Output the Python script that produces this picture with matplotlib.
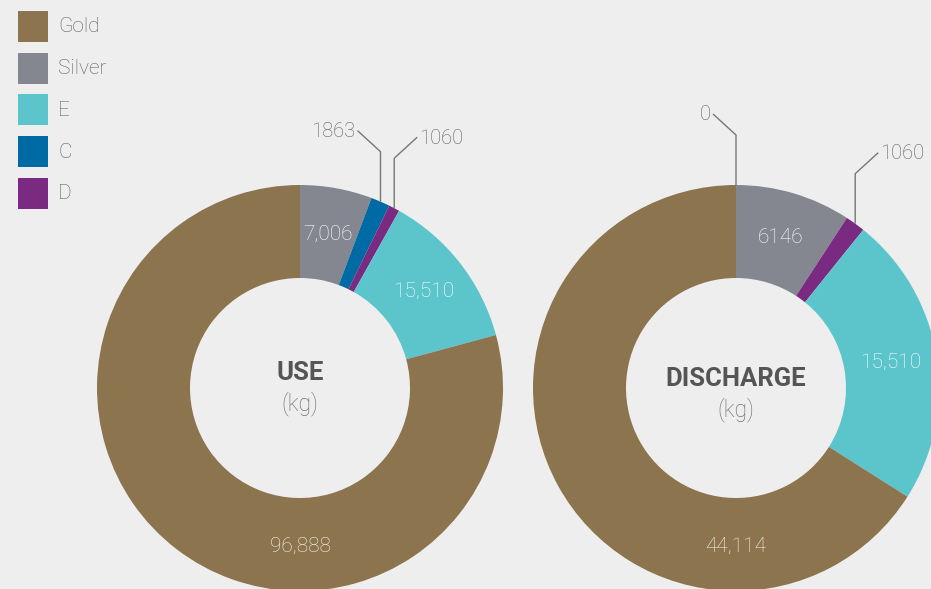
import numpy as np
import matplotlib.pyplot as plt
from matplotlib.patches import Rectangle

plt.rcParams['font.family'] = ['Roboto', 'DejaVu Sans']

# categories and colours
categories = ['Gold', 'Silver', 'E', 'C', 'D']
colors = {'Gold': '#8c744e', 'Silver': '#858790', 'E': '#5cc5cc',
          'C': '#006aa4', 'D': '#7a2a80'}

# USE (kg), clockwise from the top
use_order = ['Silver', 'C', 'D', 'E', 'Gold']
use_values = [7006, 1863, 1060, 15510, 96888]
use_labels = ['7,006', '1863', '1060', '15,510', '96,888']

# DISCHARGE (kg), clockwise from the top
dis_order = ['C', 'Silver', 'D', 'E', 'Gold']
dis_values = [0, 6146, 1060, 15510, 44114]
dis_labels = ['0', '6146', '1060', '15,510', '44,114']

bg = '#eeeeee'
W, H = 931, 589
R_OUT, R_IN = 203, 110

fig = plt.figure(figsize=(W / 100, H / 100), dpi=100, facecolor=bg)
ax = fig.add_axes([0, 0, 1, 1])
ax.set_facecolor(bg)


def donut(cx, cy, order, values, labels, title, title_dy):
    wedges, _ = ax.pie(values, colors=[colors[c] for c in order],
                       startangle=90, counterclock=False, radius=R_OUT,
                       center=(cx, cy), frame=True,
                       wedgeprops=dict(width=R_OUT - R_IN, linewidth=0))
    r_mid = (R_OUT + R_IN) / 2
    for w, name, lab in zip(wedges, order, labels):
        mid = np.deg2rad((w.theta1 + w.theta2) / 2)
        if name == 'Gold':
            # gold label sits at the bottom of the ring
            ax.text(cx, cy - r_mid - 2, lab, color='#f7f3ec', fontsize=15,
                    ha='center', va='center', fontweight='light')
        elif name in ('C', 'D'):
            # small wedges: leader line going up then diagonally out
            ax0 = cx + R_OUT * np.cos(mid)
            ay0 = cy + R_OUT * np.sin(mid)
            side = -1 if name == 'C' else 1
            ytop = ay0 + 50
            xs = [ax0, ax0, ax0 + side * 23]
            ys = [ay0, ytop, ytop + 21]
            ax.plot(xs, ys, color='#777777', lw=1, solid_capstyle='butt')
            ax.text(xs[-1] + side * 2, ys[-1] - 1, lab, color='#5e5e5e',
                    fontsize=14.5, ha='right' if side < 0 else 'left',
                    va='center', fontweight='light')
        else:
            ax.text(cx + r_mid * np.cos(mid), cy + r_mid * np.sin(mid), lab,
                    color='white', fontsize=15, ha='center', va='center',
                    fontweight='light')
    ax.text(cx, cy + 15 - title_dy, title, color='#555555', fontsize=18.5,
            fontweight='bold', ha='center', va='center')
    ax.text(cx, cy - 16 - title_dy, '(kg)', color='#6e6e6e', fontsize=16.5,
            ha='center', va='center', fontweight='light')


donut(300, H - 388, use_order, use_values, use_labels, 'USE', 0)
donut(736, H - 388, dis_order, dis_values, dis_labels, 'DISCHARGE', 6)

# legend: colour squares with labels, top left
for i, c in enumerate(categories):
    top = H - 11 - i * 41.7
    ax.add_patch(Rectangle((18, top - 31), 30, 31, facecolor=colors[c],
                           edgecolor='none'))
    ax.text(58, top - 16, c, color='#5e5e5e', fontsize=15,
            fontweight='light', ha='left', va='center')

ax.set_xlim(0, W)
ax.set_ylim(0, H)
ax.set_aspect('equal')
ax.axis('off')

fig.savefig('out.png', dpi=100, facecolor=bg)
